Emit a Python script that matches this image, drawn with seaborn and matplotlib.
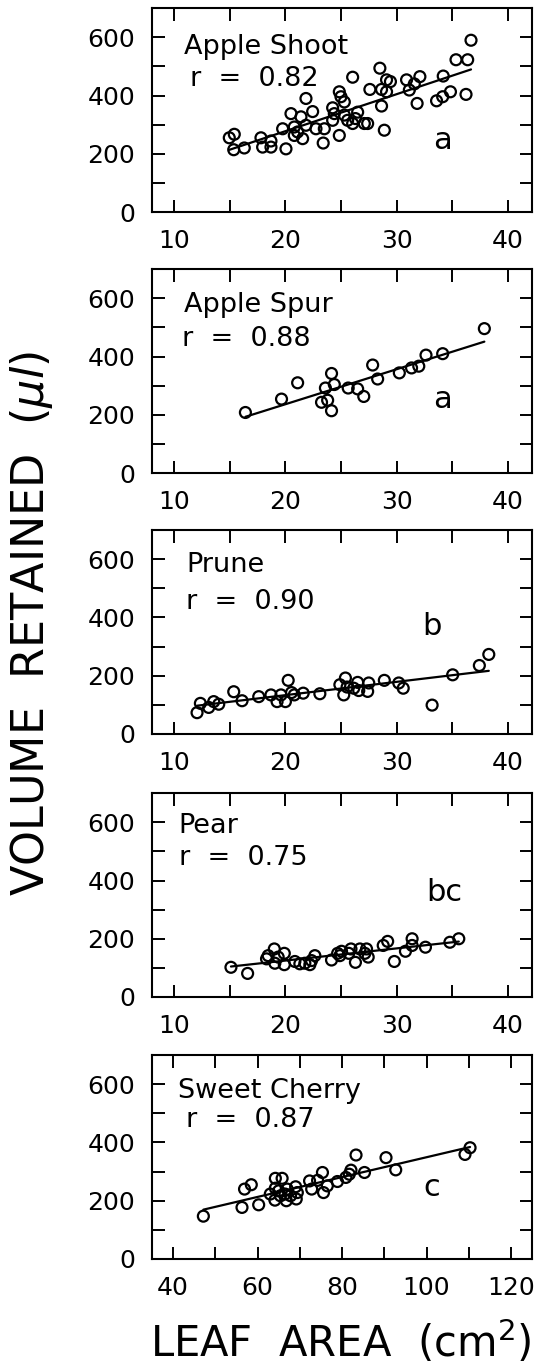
import numpy as np
import pandas as pd
import matplotlib
matplotlib.use('Agg')
import matplotlib.pyplot as plt
import seaborn as sns

# datos: area foliar (cm2) y volumen retenido (ul)
shoot_x = [36.7, 35.35, 36.4, 36.25, 34.85, 34.15, 33.6, 34.2, 32.1, 31.6, 30.9, 31.15, 31.85,
           28.5, 29.45, 29.1, 29.1, 28.65, 28.65, 28.9, 27.6, 26.05, 26.5, 27.1, 26.05, 26.3,
           24.85, 25.0, 25.3, 24.25, 24.4, 24.25, 25.3, 25.6, 24.85, 23.5, 22.75, 23.4, 22.45,
           21.85, 21.4, 20.5, 20.8, 20.8, 21.55, 21.85, 21.1, 19.75, 20.05, 18.7, 17.95, 17.8,
           18.7, 16.3, 15.35, 14.95, 15.4, 27.4]
shoot_y = [590, 523, 523, 404, 413, 396, 382, 467, 465, 440, 454, 419, 373,
           494, 448, 454, 413, 421, 364, 281, 421, 463, 343, 304, 304, 321,
           413, 396, 378, 358, 338, 315, 333, 315, 263, 286, 286, 237, 345,
           390, 327, 338, 292, 263, 252, 298, 275, 286, 217, 223, 223, 255,
           244, 220, 214, 255, 267, 304]

spur_x = [37.9, 34.15, 32.65, 32.0, 31.35, 30.25, 28.3, 27.85, 27.05, 26.5, 25.65, 24.4,
          24.15, 23.6, 23.8, 23.25, 24.15, 21.1, 19.65, 16.4]
spur_y = [496, 410, 405, 367, 361, 344, 323, 371, 263, 289, 292, 304,
          342, 292, 250, 243, 214, 310, 254, 208]

prune_x = [38.3, 37.45, 35.05, 33.2, 30.6, 30.2, 28.9, 27.5, 27.4, 26.5, 26.6, 25.4, 25.55,
           24.9, 25.25, 23.1, 21.6, 20.8, 20.55, 20.25, 20.0, 19.6, 19.25, 18.7, 17.6, 16.1,
           15.35, 14.0, 13.55, 13.1, 12.35, 12.05, 26.15]
prune_y = [273, 235, 203, 99, 157, 175, 184, 175, 146, 177, 149, 192, 161,
           169, 134, 138, 140, 134, 142, 184, 111, 134, 111, 134, 128, 114,
           145, 102, 111, 91, 105, 73, 157]

pear_x = [35.6, 34.8, 32.6, 31.4, 31.4, 30.8, 29.8, 29.2, 28.8, 27.45, 27.3, 27.15, 26.7,
          26.3, 25.9, 25.7, 25.05, 24.7, 24.9, 24.15, 22.65, 22.35, 22.2, 21.3, 20.85, 19.9,
          19.9, 19.0, 19.05, 18.45, 18.3, 16.6, 15.1, 21.75, 19.35]
pear_y = [200, 188, 171, 200, 177, 157, 122, 191, 177, 137, 165, 150, 165,
          119, 165, 150, 157, 150, 142, 127, 142, 125, 111, 114, 122, 111,
          150, 165, 116, 142, 131, 81, 102, 116, 137]

cherry_x = [110.3, 109.1, 90.4, 92.7, 83.3, 85.3, 82.1, 81.7, 80.9, 78.9, 76.5, 75.35, 75.6,
            74.2, 72.3, 72.8, 69.0, 69.4, 69.15, 67.0, 66.8, 65.8, 66.5, 65.4, 64.2, 64.2,
            64.1, 63.0, 60.25, 58.5, 56.9, 56.3, 47.15, 67.8, 65.0]
cherry_y = [382, 359, 348, 306, 357, 297, 305, 291, 280, 266, 251, 297, 228,
            270, 268, 240, 248, 228, 206, 240, 200, 277, 223, 217, 277, 243,
            202, 223, 186, 255, 240, 177, 147, 217, 234]

nombres = ['Apple Shoot', 'Apple Spur', 'Prune', 'Pear', 'Sweet Cherry']
r_valores = ['0.82', '0.88', '0.90', '0.75', '0.87']
letras = ['a', 'a', 'b', 'bc', 'c']
datos_x = [shoot_x, spur_x, prune_x, pear_x, cherry_x]
datos_y = [shoot_y, spur_y, prune_y, pear_y, cherry_y]

sns.set_theme(style='ticks')
plt.rcParams['font.family'] = ['DejaVu Sans']
plt.rcParams['mathtext.fontset'] = 'dejavusans'
plt.rcParams['text.color'] = 'black'

fig = plt.figure(figsize=(5.43, 13.68), dpi=100)

bottoms = [0.845, 0.6542, 0.4635, 0.2712, 0.0797]
# posiciones de las etiquetas dentro de cada panel
nombre_pos = [(0.084, 0.875), (0.084, 0.889), (0.09, 0.892), (0.07, 0.902), (0.068, 0.889)]
r_pos = [(0.10, 0.718), (0.08, 0.722), (0.09, 0.712), (0.07, 0.747), (0.09, 0.747)]
letra_pos = [(0.763, 0.35), (0.763, 0.36), (0.737, 0.525), (0.768, 0.515), (0.737, 0.353)]

for i in range(5):
    ax = fig.add_axes([0.280, bottoms[i], 0.700, 0.149])
    df = pd.DataFrame({'area': datos_x[i], 'volumen': datos_y[i]})
    sns.regplot(data=df, x='area', y='volumen', ax=ax, ci=None, color='black',
                scatter_kws={'facecolors': 'none', 'edgecolors': 'black', 's': 62,
                             'linewidths': 1.6, 'alpha': 1},
                line_kws={'linewidth': 1.6})

    if i < 4:
        ax.set_xlim(8, 42.2)
        ax.set_xticks([10, 20, 30, 40])
        ax.set_xticks([15, 25, 35], minor=True)
    else:
        ax.set_xlim(35, 125)
        ax.set_xticks([40, 60, 80, 100, 120])
        ax.set_xticks([50, 70, 90, 110], minor=True)
    ax.set_ylim(0, 700)
    ax.set_yticks([0, 200, 400, 600])
    ax.set_yticks([100, 300, 500], minor=True)

    ax.tick_params(which='both', direction='in', top=True, right=True,
                   length=9, width=1.4, labelsize=18, pad=12, colors='black')
    for sp in ax.spines.values():
        sp.set_linewidth(1.5)
        sp.set_color('black')
    ax.set_xlabel('')
    ax.set_ylabel('')

    ax.text(nombre_pos[i][0], nombre_pos[i][1], nombres[i], transform=ax.transAxes,
            fontsize=19.5, va='top', ha='left')
    ax.text(r_pos[i][0], r_pos[i][1], 'r  =  ' + r_valores[i], transform=ax.transAxes,
            fontsize=19.5, va='top', ha='left')
    ax.text(letra_pos[i][0], letra_pos[i][1], letras[i], transform=ax.transAxes,
            fontsize=22, va='center', ha='center')

fig.text(0.058, 0.544, r'VOLUME  RETAINED  ($\mu l$)', rotation=90,
         fontsize=32, va='center', ha='center')
fig.text(0.627, 0.008, r'LEAF  AREA  (cm$^2$)', fontsize=30, va='baseline', ha='center')

plt.savefig('out.png', dpi=100)
